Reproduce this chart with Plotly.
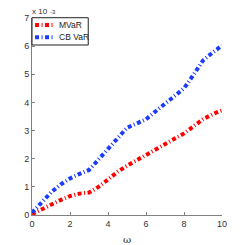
import plotly.graph_objects as go

omega = [0, 0.5, 1, 1.5, 2, 2.5, 3, 3.5, 4, 4.5, 5, 5.5, 6, 6.5, 7, 7.5, 8, 8.5, 9, 9.5, 10]
# values in units of 1e-3
mvar = [0.03, 0.2, 0.37, 0.53, 0.67, 0.76, 0.8, 1.0, 1.26, 1.53, 1.75, 1.94, 2.14, 2.34, 2.55, 2.73, 2.9, 3.15, 3.4, 3.58, 3.72]
cbvar = [0.08, 0.45, 0.8, 1.08, 1.3, 1.46, 1.6, 1.97, 2.35, 2.77, 3.1, 3.25, 3.4, 3.68, 3.96, 4.23, 4.5, 4.98, 5.49, 5.77, 6.02]
series_names = ["MVaR", "CB VaR"]
series_colors = ["#ff0000", "#1a3cff"]
xticks = [0, 2, 4, 6, 8, 10]
yticks = [0, 1, 2, 3, 4, 5, 6, 7]

dash = "4px,2.5px,1px,2.5px"
font_family = "Liberation Sans, Arial, sans-serif"

fig = go.Figure()
for name, vals, col in zip(series_names, [mvar, cbvar], series_colors):
    fig.add_trace(go.Scatter(x=omega, y=vals, mode="lines", name=name,
                             line=dict(color=col, width=4, dash=dash)))

axis_common = dict(showline=True, linecolor="#808080", linewidth=1, ticks="inside",
                   ticklen=3, tickcolor="#808080", showgrid=False, zeroline=False,
                   automargin=False,
                   tickfont=dict(family=font_family, size=9, color="#333"))

# compact legend box drawn in paper coordinates (MATLAB style)
shapes = [dict(type="rect", xref="paper", yref="paper", x0=0.0, x1=0.296,
               y0=0.863, y1=1.0015, line=dict(color="#222", width=1),
               fillcolor="white", layer="above")]
annotations = []
entry_y = [0.964, 0.902]
for name, col, yy in zip(series_names, series_colors, entry_y):
    shapes.append(dict(type="line", xref="paper", yref="paper", x0=0.016, x1=0.121,
                       y0=yy, y1=yy, line=dict(color=col, width=4, dash=dash),
                       layer="above"))
    annotations.append(dict(text=name, xref="paper", yref="paper", x=0.134, y=yy,
                            xanchor="left", yanchor="middle", showarrow=False,
                            font=dict(family=font_family, size=8.5, color="#222")))
# exponent label "x 10^-3"
annotations.append(dict(text="x 10", xref="paper", yref="paper", x=0.0, y=1.0,
                        xanchor="left", yanchor="bottom", showarrow=False, xshift=-1,
                        yshift=1, borderpad=0,
                        font=dict(family=font_family, size=8, color="#333")))
annotations.append(dict(text="-3", xref="paper", yref="paper", x=0.0, y=1.0,
                        xanchor="left", yanchor="top", showarrow=False, xshift=17,
                        yshift=10, borderpad=0,
                        font=dict(family=font_family, size=6, color="#333")))

fig.update_layout(
    width=237, height=237,
    margin=dict(l=24, r=23, t=10, b=30),
    paper_bgcolor="white", plot_bgcolor="white",
    xaxis=dict(range=[0, 10], tickvals=xticks, title=dict(text="ω", standoff=8,
               font=dict(family="DejaVu Serif", size=10, color="#222")), **axis_common),
    yaxis=dict(range=[0, 7], tickvals=yticks, **axis_common),
    showlegend=False,
    shapes=shapes,
    annotations=annotations,
)
fig.write_html("out.html")
